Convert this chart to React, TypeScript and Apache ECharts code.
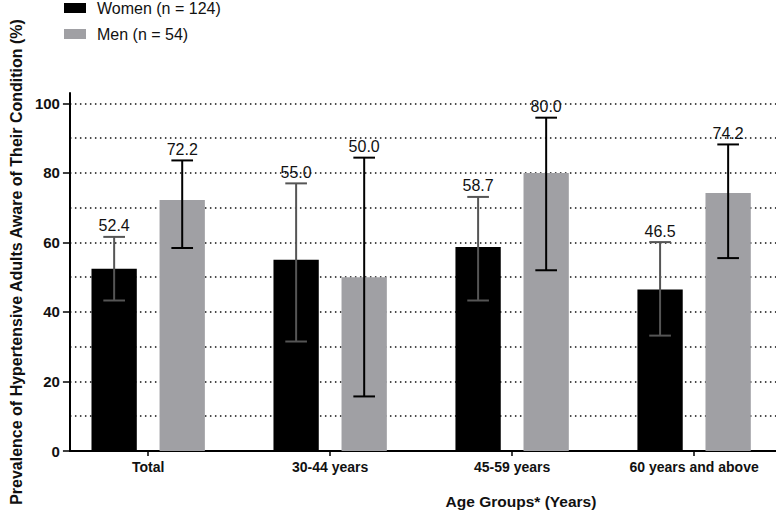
import React, { useEffect, useRef } from "react";
import * as echarts from "echarts";

const categories = ["Total", "30-44 years", "45-59 years", "60 years and above"];
const womenValues = [52.4, 55.0, 58.7, 46.5];
const womenLow = [43.3, 31.5, 43.3, 33.2];
const womenHigh = [61.6, 77.0, 73.1, 60.1];
const menValues = [72.2, 50.0, 80.0, 74.2];
const menLow = [58.4, 15.7, 52.0, 55.5];
const menHigh = [83.6, 84.4, 95.9, 88.2];
const yTickLabels = [0, 20, 40, 60, 80, 100];
const seriesNames = ["Women (n = 124)", "Men (n = 54)"];

const FONT = "'Liberation Sans', Arial, Helvetica, sans-serif";

function makeRender(sign: number, errColor: string) {
  return (params: any, api: any) => {
    const cat = api.value(0);
    const v = api.value(1);
    const lo = api.value(2);
    const hi = api.value(3);
    const unit = api.size([1, 0])[0];
    const barW = unit * 0.249;
    const off = sign * unit * 0.187;
    const capW = unit * 0.119;
    const base = api.coord([cat, 0]);
    const top = api.coord([cat, v]);
    const hiP = api.coord([cat, hi]);
    const loP = api.coord([cat, lo]);
    const cx = base[0] + off;
    const color = api.visual("color");
    return {
      type: "group",
      children: [
        {
          type: "rect",
          shape: { x: cx - barW / 2, y: top[1], width: barW, height: base[1] - top[1] },
          style: { fill: color },
        },
        {
          type: "line",
          shape: { x1: cx, y1: hiP[1], x2: cx, y2: loP[1] },
          style: { stroke: errColor, lineWidth: 2 },
        },
        {
          type: "line",
          shape: { x1: cx - capW / 2, y1: hiP[1], x2: cx + capW / 2, y2: hiP[1] },
          style: { stroke: errColor, lineWidth: 2 },
        },
        {
          type: "line",
          shape: { x1: cx - capW / 2, y1: loP[1], x2: cx + capW / 2, y2: loP[1] },
          style: { stroke: errColor, lineWidth: 2 },
        },
        {
          type: "text",
          x: cx,
          y: hiP[1] - 3,
          style: {
            text: v.toFixed(1),
            fill: "#111",
            font: `16px ${FONT}`,
            align: "center",
            verticalAlign: "bottom",
          },
        },
      ],
    };
  };
}

export default function App() {
  const ref = useRef<HTMLDivElement>(null);
  useEffect(() => {
    document.body.style.margin = "0";
    const chart = echarts.init(ref.current!, null, { renderer: "svg" });
    const womenData = categories.map((_, i) => [i, womenValues[i], womenLow[i], womenHigh[i]]);
    const menData = categories.map((_, i) => [i, menValues[i], menLow[i], menHigh[i]]);
    chart.setOption({
      animation: false,
      textStyle: { fontFamily: FONT },
      legend: {
        orient: "vertical",
        left: 59,
        top: -5,
        icon: "rect",
        itemWidth: 22,
        itemHeight: 10,
        itemGap: 10,
        textStyle: { fontSize: 16, color: "#111", fontFamily: FONT, padding: [0, 0, 0, 6] },
        data: seriesNames,
      },
      grid: { left: 59, right: 0, top: 93, bottom: 69, containLabel: false },
      xAxis: {
        type: "value",
        min: -0.43,
        max: 3.45,
        name: "Age Groups* (Years)",
        nameLocation: "middle",
        nameGap: 42,
        nameTextStyle: {
          fontSize: 15.5,
          fontWeight: "bold",
          color: "#111",
          fontFamily: FONT,
          padding: [0, 0, 0, 196],
        },
        axisLine: { show: true, onZero: false, lineStyle: { color: "#000", width: 2 } },
        axisTick: { show: true, length: 5, lineStyle: { color: "#000", width: 1.5 }, customValues: [0, 1, 2, 3] },
        axisLabel: {
          customValues: [0, 1, 2, 3],
          formatter: (v: number) => categories[Math.round(v)] ?? "",
          fontSize: 14,
          fontWeight: "bold",
          color: "#111",
          margin: 9,
        },
        splitLine: { show: false },
      },
      yAxis: [
        {
          type: "value",
          min: 0,
          max: 103,
          interval: 20,
          name: "Prevalence of Hypertensive Adults Aware of Their Condition (%)",
          nameLocation: "middle",
          nameGap: 41,
          nameTextStyle: {
            fontSize: 16,
            fontWeight: "bold",
            color: "#111",
            fontFamily: FONT,
            padding: [0, 0, 0, 20],
          },
          axisLine: { show: true, onZero: false, lineStyle: { color: "#000", width: 2 } },
          axisTick: { show: true, length: 7, lineStyle: { color: "#000", width: 1.5 }, customValues: yTickLabels },
          axisLabel: {
            customValues: yTickLabels,
            fontSize: 15,
            fontWeight: "bold",
            color: "#111",
            margin: 10,
          },
          splitLine: { show: false },
        },
        {
          type: "value",
          position: "left",
          min: 0,
          max: 103,
          interval: 10,
          axisLine: { show: false, onZero: false },
          axisTick: { show: false },
          axisLabel: { show: false },
          splitLine: {
            show: true,
            showMinLine: false,
            showMaxLine: false,
            lineStyle: { color: "#111", width: 1.5, type: [1.5, 3.5] },
          },
        },
      ],
      series: [
        {
          name: seriesNames[0],
          type: "custom",
          itemStyle: { color: "#000000" },
          encode: { x: 0, y: 1 },
          data: womenData,
          renderItem: makeRender(-1, "#555555"),
        },
        {
          name: seriesNames[1],
          type: "custom",
          itemStyle: { color: "#a0a0a4" },
          encode: { x: 0, y: 1 },
          data: menData,
          renderItem: makeRender(1, "#000000"),
        },
      ],
    });
    return () => chart.dispose();
  }, []);
  return <div ref={ref} style={{ width: 776, height: 520 }} />;
}
